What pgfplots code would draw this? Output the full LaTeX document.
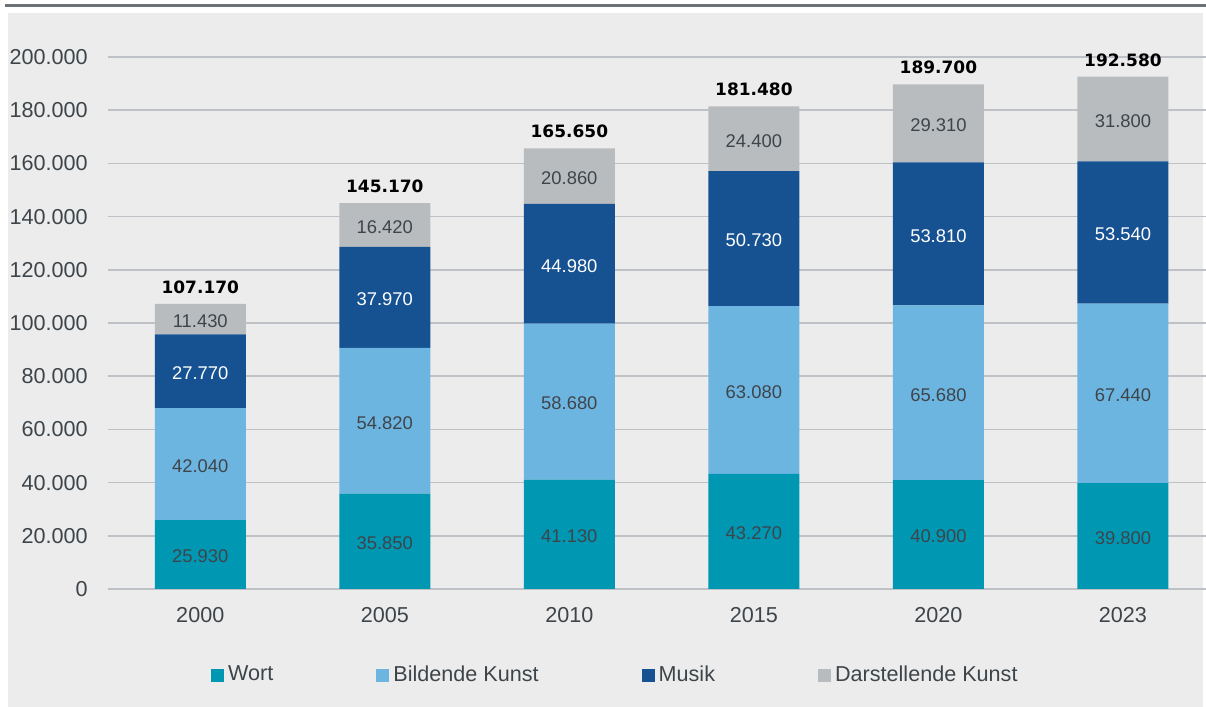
\documentclass[border=0pt]{standalone}
\usepackage{fontspec}
\setmainfont{Liberation Sans}
\newfontfamily\heavy{DejaVu Sans}
\usepackage{pgfplots}
\pgfplotsset{compat=1.18}

\definecolor{wort}{HTML}{0097B3}
\definecolor{bild}{HTML}{6DB5E1}
\definecolor{musik}{HTML}{165191}
\definecolor{darst}{HTML}{B8BCBF}
\definecolor{bg}{HTML}{ECECEC}
\definecolor{gridc}{HTML}{BEC2C6}
\definecolor{topline}{HTML}{6B7378}
\definecolor{txt}{HTML}{3E454A}

\pgfplotsset{
  frame/.style={
    at={(54pt,59pt)}, anchor=south west,
    width=549pt, height=266pt, scale only axis,
    bar width=45.5pt,
    xmin=-0.5, xmax=5.45, ymin=0, ymax=200000,
    clip=false,
  },
  % stacked segments: label sits in the middle of each segment
  mid label/.style={
    point meta=rawy,
    nodes near coords={\pgfmathprintnumber[fixed,precision=0,1000 sep={.},assume math mode=true]{\pgfplotspointmeta}},
    every node near coord/.append style={
      font=\fontsize{9.2}{10}\selectfont, text=#1, anchor=center, inner sep=0pt,
      yshift=-1pt
    }
  }
}

\begin{document}
\begin{tikzpicture}
\useasboundingbox (0,0) rectangle (603pt,353.5pt);
\fill[white] (0,0) rectangle (603pt,353.5pt);
\fill[bg] (4pt,0) rectangle (601.5pt,347pt);
\draw[topline, line width=1.5pt] (2.5pt,350.5pt) -- (603pt,350.5pt);

\begin{axis}[
    frame,
    ybar stacked,
    xtick={0,...,5},
    xticklabels={2000,2005,2010,2015,2020,2023},
    ytick={0,20000,...,200000},
    scaled y ticks=false,
    /pgf/number format/fixed,
    /pgf/number format/1000 sep={.},
    /pgf/number format/assume math mode=true,
    axis lines*=left, axis line style={draw=none},
    major tick length=0pt,
    ymajorgrids, grid style={gridc, line width=0.75pt},
    tick label style={font=\fontsize{10.8}{12}\selectfont, text=txt},
    yticklabel style={anchor=east, inner sep=0pt, xshift=-10pt},
    xticklabel style={anchor=north, inner sep=0pt, yshift=-9pt},
    legend columns=-1,
    legend style={at={(0.463,-0.1617)}, anchor=center, draw=none, fill=none,
      font=\fontsize{10.8}{12}\selectfont, text=txt,
      /tikz/every even column/.append style={column sep=49.5pt},
      nodes={inner xsep=2pt, inner ysep=1pt}},
    legend image code/.code={\fill[#1] (0pt,-3.25pt) rectangle (6.5pt,3.25pt);},
  ]
\addplot[fill=wort, draw=none, mid label=txt] coordinates
  {(0,25930) (1,35850) (2,41130) (3,43270) (4,40900) (5,39800)};
\addplot[fill=bild, draw=none, mid label=txt] coordinates
  {(0,42040) (1,54820) (2,58680) (3,63080) (4,65680) (5,67440)};
\addplot[fill=musik, draw=none, mid label=white] coordinates
  {(0,27770) (1,37970) (2,44980) (3,50730) (4,53810) (5,53540)};
\addplot[fill=darst, draw=none, mid label=txt] coordinates
  {(0,11430) (1,16420) (2,20860) (3,24400) (4,29310) (5,31800)};
\legend{Wort, Bildende Kunst, Musik, Darstellende Kunst}
\end{axis}

% totals above each stack
\begin{axis}[frame, ybar, hide axis]
\addplot[draw=none, fill=none, point meta=rawy,
  nodes near coords={\pgfmathprintnumber[fixed,precision=0,1000 sep={.},assume math mode=true]{\pgfplotspointmeta}},
  every node near coord/.append style={font=\heavy\bfseries\fontsize{8.5}{10}\selectfont,
    text=black, anchor=south, inner sep=0pt, yshift=5pt}]
  coordinates {(0,107170) (1,145170) (2,165650) (3,181480) (4,189700) (5,192580)};
\end{axis}
\end{tikzpicture}
\end{document}
